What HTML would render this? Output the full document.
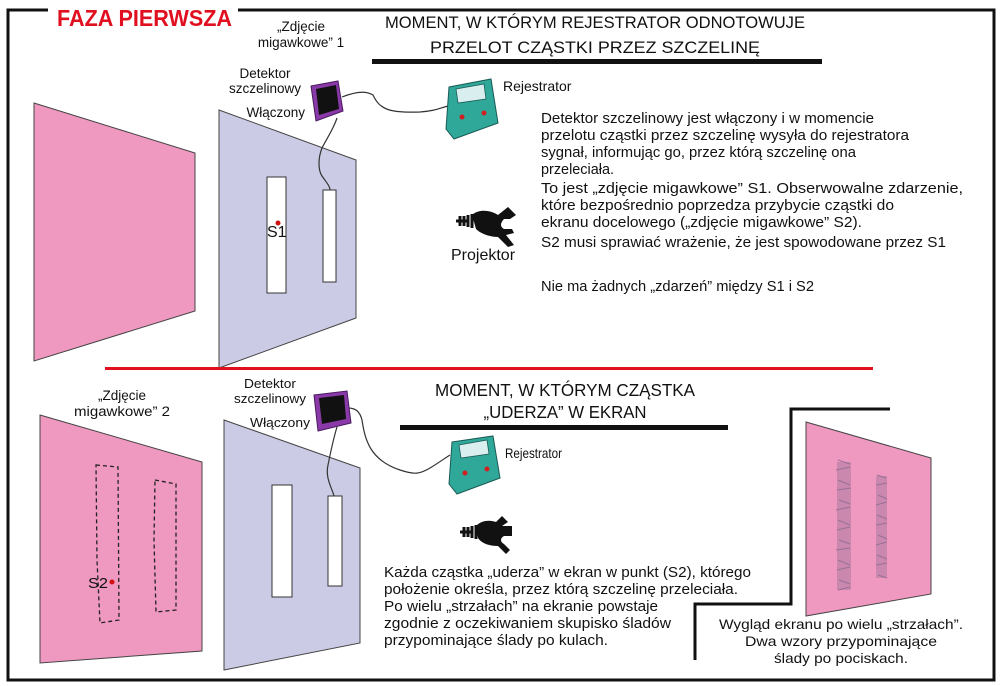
<!DOCTYPE html>
<html><head><meta charset="utf-8"><style>
html,body{margin:0;padding:0;background:#fff;}
svg{display:block;}
text{font-family:"Liberation Sans",sans-serif;fill:#111;}
</style></head><body>
<svg width="1000" height="686" viewBox="0 0 1000 686" xmlns="http://www.w3.org/2000/svg">
<rect width="1000" height="686" fill="#fff"/>
<!-- frame -->
<path d="M48 10 H8 V680 H994 V10 H238" fill="none" stroke="#111" stroke-width="3"/>
<text x="57" y="26" font-size="23" font-weight="bold" fill="#e01020" style="fill:#e01020" textLength="175" lengthAdjust="spacingAndGlyphs">FAZA PIERWSZA</text>

<!-- TOP SECTION -->
<polygon points="34,103 195,153 195,311 34,361" fill="#ef98c0" stroke="#444" stroke-width="1"/>
<polygon points="219,110 356,160 356,318 219,368" fill="#cccbe6" stroke="#444" stroke-width="1"/>
<rect x="267" y="177" width="19" height="116" fill="#fff" stroke="#333" stroke-width="1"/>
<rect x="323" y="190" width="13" height="92" fill="#fff" stroke="#333" stroke-width="1"/>
<circle cx="278" cy="223" r="2.5" fill="#d01010"/>
<text x="267" y="237" font-size="16">S1</text>

<text x="301" y="31" font-size="13.5" text-anchor="middle">„Zdjęcie</text>
<text x="301" y="47" font-size="13.5" text-anchor="middle">migawkowe” 1</text>
<text x="265" y="78" font-size="13.5" text-anchor="middle">Detektor</text>
<text x="265" y="93" font-size="13.5" text-anchor="middle">szczelinowy</text>
<text x="305" y="117" font-size="13.5" text-anchor="end">Włączony</text>

<path d="M342 97 C360 90 368 92 373 95 C380 110 390 113 420 112 C435 111 440 108 448 106" fill="none" stroke="#333" stroke-width="1.2"/>
<path d="M337 118 C333 130 327 138 322 148 C318 158 318 170 322 176 C326 182 330 186 330 190" fill="none" stroke="#333" stroke-width="1.2"/>
<g transform="translate(311,81)">
<polygon points="0,5 27,0 32,30 5,40" fill="#8a3aa8" stroke="#4a1a60" stroke-width="1"/>
<polygon points="5,8 25,4 28,28 8,34" fill="#111"/>
</g>
<g transform="translate(446,79)">
<polygon points="3,8 45,0 52,44 8,60 0,50" fill="#2fa89a" stroke="#1a5a55" stroke-width="1"/>
<polygon points="10,10 38,5 40,20 12,24" fill="#d9eeee" stroke="#1a5a55" stroke-width="0.8"/>
<circle cx="16" cy="38" r="2.5" fill="#d02020"/>
<circle cx="38" cy="34" r="2.5" fill="#d02020"/>
</g>
<text x="503" y="91" font-size="14">Rejestrator</text>

<g transform="translate(456,205)">
<path d="M0 16 h12 M4 11 v10 M8 11 v10 M12 10 v12 M16 9 v14" stroke="#111" stroke-width="3"/>
<path d="M16 10 C24 3 36 6 42 10 L52 2 L60 10 L54 14 L48 14 C44 18 44 22 48 24 L56 24 L58 28 L50 30 L58 40 L52 42 L42 32 C36 32 26 30 20 24 Z" fill="#111"/>
</g>
<text x="451" y="260" font-size="16">Projektor</text>

<text x="595" y="28" font-size="17" text-anchor="middle" textLength="420" lengthAdjust="spacingAndGlyphs">MOMENT, W KTÓRYM REJESTRATOR ODNOTOWUJE</text>
<text x="595" y="53" font-size="17" text-anchor="middle" textLength="330" lengthAdjust="spacingAndGlyphs">PRZELOT CZĄSTKI PRZEZ SZCZELINĘ</text>
<rect x="372" y="59" width="450" height="5" fill="#111"/>

<g font-size="14.5">
<text x="541" y="123" textLength="333" lengthAdjust="spacingAndGlyphs">Detektor szczelinowy jest włączony i w momencie</text>
<text x="541" y="140" textLength="368" lengthAdjust="spacingAndGlyphs">przelotu cząstki przez szczelinę wysyła do rejestratora</text>
<text x="541" y="157" textLength="315" lengthAdjust="spacingAndGlyphs">sygnał, informując go, przez którą szczelinę ona</text>
<text x="541" y="174" textLength="73" lengthAdjust="spacingAndGlyphs">przeleciała.</text>
<text x="541" y="193" textLength="422" lengthAdjust="spacingAndGlyphs">To jest „zdjęcie migawkowe” S1. Obserwowalne zdarzenie,</text>
<text x="541" y="210" textLength="353" lengthAdjust="spacingAndGlyphs">które bezpośrednio poprzedza przybycie cząstki do</text>
<text x="541" y="227" textLength="321" lengthAdjust="spacingAndGlyphs">ekranu docelowego („zdjęcie migawkowe” S2).</text>
<text x="541" y="247" textLength="405" lengthAdjust="spacingAndGlyphs">S2 musi sprawiać wrażenie, że jest spowodowane przez S1</text>
<text x="541" y="291" textLength="273" lengthAdjust="spacingAndGlyphs">Nie ma żadnych „zdarzeń” między S1 i S2</text>
</g>

<rect x="105" y="367" width="768" height="3" fill="#e01020"/>

<!-- BOTTOM SECTION -->
<polygon points="40,415 202,462 202,651 40,663" fill="#ef98c0" stroke="#444" stroke-width="1"/>
<path d="M96 465 L118 467 L119 620 L100 623 L97 560 Z" fill="none" stroke="#222" stroke-width="1.3" stroke-dasharray="4,3"/>
<path d="M155 480 L176 484 L176 610 L156 612 L154 540 Z" fill="none" stroke="#222" stroke-width="1.3" stroke-dasharray="4,3"/>
<circle cx="112" cy="582" r="2.5" fill="#d01010"/>
<text x="88" y="588" font-size="15" textLength="20" lengthAdjust="spacingAndGlyphs">S2</text>
<text x="122" y="400" font-size="13.5" text-anchor="middle" textLength="48" lengthAdjust="spacingAndGlyphs">„Zdjęcie</text>
<text x="122" y="416" font-size="13.5" text-anchor="middle" textLength="96" lengthAdjust="spacingAndGlyphs">migawkowe” 2</text>

<polygon points="224,420 360,468 360,643 224,670" fill="#cccbe6" stroke="#444" stroke-width="1"/>
<rect x="272" y="485" width="20" height="112" fill="#fff" stroke="#333" stroke-width="1"/>
<rect x="328" y="496" width="14" height="90" fill="#fff" stroke="#333" stroke-width="1"/>
<text x="270" y="388" font-size="13" text-anchor="middle" textLength="52" lengthAdjust="spacingAndGlyphs">Detektor</text>
<text x="270" y="403" font-size="13" text-anchor="middle" textLength="72" lengthAdjust="spacingAndGlyphs">szczelinowy</text>
<text x="310" y="427" font-size="13" text-anchor="end" textLength="60" lengthAdjust="spacingAndGlyphs">Włączony</text>
<path d="M348 408 C356 408 360 412 362 420 C365 440 370 460 400 470 C415 475 420 474 430 468 C440 462 445 458 450 455" fill="none" stroke="#333" stroke-width="1.2"/>
<path d="M337 427 C333 440 330 455 328 465 C325 478 332 488 334 496" fill="none" stroke="#333" stroke-width="1.2"/>
<g transform="translate(314,391)">
<polygon points="0,4 33,0 37,32 4,40" fill="#8a3aa8" stroke="#4a1a60" stroke-width="1"/>
<polygon points="5,7 30,4 32,28 8,33" fill="#111"/>
</g>
<g transform="translate(449,436)">
<polygon points="3,6 44,0 51,42 8,58 0,48" fill="#2fa89a" stroke="#1a5a55" stroke-width="1"/>
<polygon points="10,9 38,4 40,18 12,22" fill="#d9eeee" stroke="#1a5a55" stroke-width="0.8"/>
<circle cx="16" cy="37" r="2.5" fill="#d02020"/>
<circle cx="38" cy="33" r="2.5" fill="#d02020"/>
</g>
<text x="505" y="458" font-size="14" textLength="57" lengthAdjust="spacingAndGlyphs">Rejestrator</text>

<g transform="translate(460,516)">
<path d="M0 16 h12 M4 11 v10 M8 11 v10 M12 10 v12 M16 9 v14" stroke="#111" stroke-width="3"/>
<path d="M16 10 C22 4 30 4 36 6 L42 0 L48 6 L42 10 L52 10 L52 20 L44 20 C40 22 40 26 44 28 L50 34 L46 38 L38 30 C30 30 22 28 18 22 Z" fill="#111"/>
</g>

<text x="565" y="396" font-size="17.5" text-anchor="middle" textLength="260" lengthAdjust="spacingAndGlyphs">MOMENT, W KTÓRYM CZĄSTKA</text>
<text x="565" y="418" font-size="17.5" text-anchor="middle" textLength="163" lengthAdjust="spacingAndGlyphs">„UDERZA” W EKRAN</text>
<rect x="400" y="425" width="328" height="5" fill="#111"/>

<g font-size="14.5">
<text x="384" y="577" textLength="367" lengthAdjust="spacingAndGlyphs">Każda cząstka „uderza” w ekran w punkt (S2), którego</text>
<text x="384" y="594" textLength="354" lengthAdjust="spacingAndGlyphs">położenie określa, przez którą szczelinę przeleciała.</text>
<text x="384" y="611" textLength="274" lengthAdjust="spacingAndGlyphs">Po wielu „strzałach” na ekranie powstaje</text>
<text x="384" y="628" textLength="287" lengthAdjust="spacingAndGlyphs">zgodnie z oczekiwaniem skupisko śladów</text>
<text x="384" y="645" textLength="224" lengthAdjust="spacingAndGlyphs">przypominające ślady po kulach.</text>
</g>

<path d="M890 409 H791 V604 H695 V660" fill="none" stroke="#111" stroke-width="3"/>
<polygon points="806,422 931,458 931,594 806,616" fill="#ef98c0" stroke="#444" stroke-width="1"/>
<g stroke="#8a6a90" stroke-width="1" opacity="0.8">
<path d="M838 460 l12 4 M836 470 l14 -3 M838 480 l12 5 M837 490 l14 -2 M839 500 l11 4 M836 510 l14 -3 M838 520 l12 5 M837 530 l13 -3 M839 540 l11 4 M836 550 l14 -2 M838 560 l12 5 M837 570 l13 -3 M839 580 l11 4 M838 590 l12 -3"/>
<path d="M877 475 l9 3 M876 485 l11 -2 M878 495 l9 4 M876 505 l11 -3 M877 515 l10 4 M876 525 l11 -2 M878 535 l9 4 M876 545 l11 -3 M877 555 l10 4 M876 565 l11 -2 M878 575 l9 3"/>
</g>
<rect x="837" y="462" width="14" height="128" fill="#8a6a90" opacity="0.35"/>
<rect x="876" y="476" width="11" height="102" fill="#8a6a90" opacity="0.35"/>
<g font-size="14" text-anchor="middle">
<text x="841" y="629" textLength="244" lengthAdjust="spacingAndGlyphs">Wygląd ekranu po wielu „strzałach”.</text>
<text x="841" y="646" textLength="192" lengthAdjust="spacingAndGlyphs">Dwa wzory przypominające</text>
<text x="841" y="663" textLength="134" lengthAdjust="spacingAndGlyphs">ślady po pociskach.</text>
</g>
</svg>
</body></html>
